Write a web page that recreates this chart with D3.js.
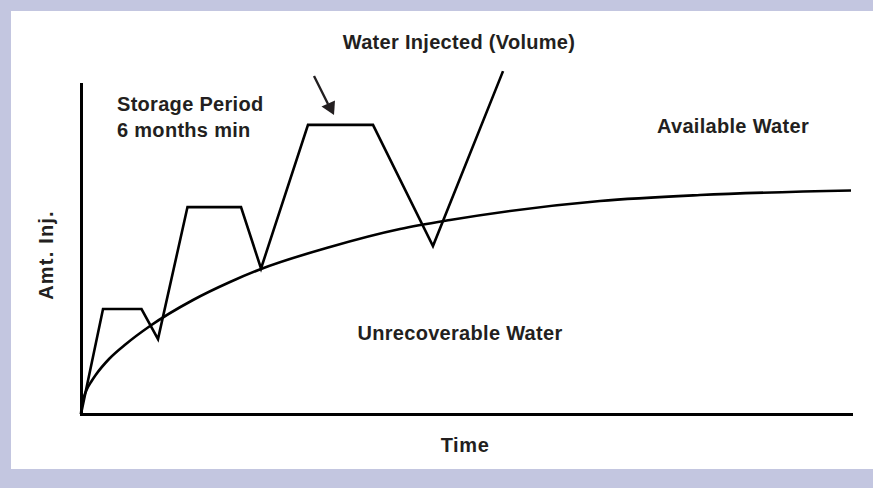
<!DOCTYPE html>
<html>
<head>
<meta charset="utf-8">
<script src="https://cdn.jsdelivr.net/npm/d3@7"></script>
<style>
  body { margin: 0; padding: 0; background: #c3c6e0; }
  text { font-family: "Liberation Sans", Arial, sans-serif; font-weight: bold; fill: #231f20; }
</style>
</head>
<body>
<div id="chart"></div>
<script>

// water injected (volume), time vs amount
var injTime   = [0, 2.86, 7.86, 10.0, 13.83, 20.78, 23.38, 29.48, 37.92, 45.71, 54.81];
var injAmount = [0, 31.8, 31.8, 22.7, 62.7, 62.7, 44.1, 87.6, 87.6, 50.9, 103.9];

// boundary between available / unrecoverable water
var availTime   = [0, 0.13, 0.39, 0.78, 1.30, 1.95, 3.64, 5.84, 8.96, 14.55, 19.35, 23.38, 32.34, 41.43, 47.92, 67.40, 80.39, 100];
var availAmount = [0, 3.03, 5.30, 7.58, 9.70, 11.97, 16.67, 21.21, 26.67, 34.55, 40.0, 43.94, 50.61, 56.06, 58.79, 64.55, 66.36, 67.73];

var xLabel = "Time"
var yLabel = "Amt. Inj."

var width = 873
var height = 488

var svg = d3.select("#chart")
  .append("svg")
  .attr("width", width)
  .attr("height", height);

svg.append("rect")
  .attr("width", width).attr("height", height)
  .attr("fill", "#c3c6e0");

svg.append("rect")
  .attr("x", 11).attr("y", 11)
  .attr("width", width - 11).attr("height", 458)
  .attr("fill", "#fff");

var x = d3.scaleLinear().domain([0, 100]).range([81, 851]);
var y = d3.scaleLinear().domain([0, 100]).range([414, 84]);

var line = d3.line()
  .x(function(d) { return x(d[0]); })
  .y(function(d) { return y(d[1]); });

var curve = d3.line()
  .curve(d3.curveMonotoneX)
  .x(function(d) { return x(d[0]); })
  .y(function(d) { return y(d[1]); });

var injData = injTime.map(function(t, i) { return [t, injAmount[i]]; });
var availData = availTime.map(function(t, i) { return [t, availAmount[i]]; });

svg.append("path")
  .datum(availData)
  .attr("fill", "none")
  .attr("stroke", "#000")
  .attr("stroke-width", 2.6)
  .attr("d", curve);

svg.append("path")
  .datum(injData)
  .attr("fill", "none")
  .attr("stroke", "#000")
  .attr("stroke-width", 2.6)
  .attr("stroke-linejoin", "miter")
  .attr("d", line);

// axes, no ticks
svg.append("g")
  .attr("transform", "translate(0," + y(0) + ")")
  .call(d3.axisBottom(x).tickValues([]).tickSizeOuter(0))
  .select(".domain")
    .attr("stroke", "#000")
    .attr("stroke-width", 3)
    .attr("stroke-linecap", "square");

svg.append("g")
  .attr("transform", "translate(" + x(0) + ",0)")
  .call(d3.axisLeft(y).tickValues([]).tickSizeOuter(0))
  .select(".domain")
    .attr("stroke", "#000")
    .attr("stroke-width", 3)
    .attr("stroke-linecap", "square");

// labels
svg.append("text")
  .attr("x", 465).attr("y", 452)
  .attr("text-anchor", "middle")
  .style("font-size", "20px")
  .style("letter-spacing", "0.6px")
  .text(xLabel);

svg.append("text")
  .attr("transform", "translate(53,255) rotate(-90)")
  .attr("text-anchor", "middle")
  .style("font-size", "20px")
  .style("letter-spacing", "1.2px")
  .text(yLabel);

var notes = [
  {t: "Storage Period", x: 117, y: 111, a: "start"},
  {t: "6 months min", x: 117, y: 137, a: "start"},
  {t: "Water Injected (Volume)", x: 459, y: 49, a: "middle"},
  {t: "Available Water", x: 733, y: 133, a: "middle"},
  {t: "Unrecoverable Water", x: 460, y: 340, a: "middle"}
]

svg.selectAll(".note")
  .data(notes)
  .enter().append("text")
    .attr("class", "note")
    .attr("x", function(d) { return d.x; })
    .attr("y", function(d) { return d.y; })
    .attr("text-anchor", function(d) { return d.a; })
    .style("font-size", "20px")
    .style("letter-spacing", "0.3px")
    .text(function(d) { return d.t; });

// arrow pointing at the storage plateau
svg.append("line")
  .attr("x1", 314).attr("y1", 76)
  .attr("x2", 328).attr("y2", 104)
  .attr("stroke", "#231f20")
  .attr("stroke-width", 2.4);

svg.append("path")
  .attr("d", "M334,115L321.5,106.5L335,100.5Z")
  .attr("fill", "#231f20");

</script>
</body>
</html>
